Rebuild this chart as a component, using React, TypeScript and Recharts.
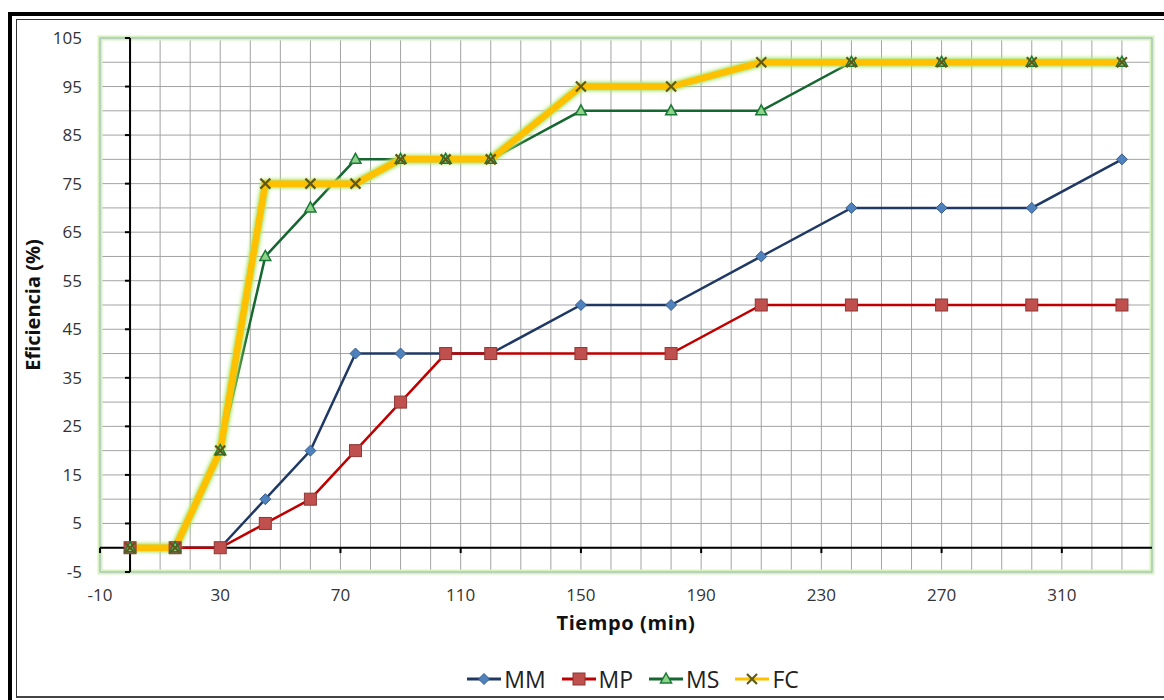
import React from 'react';
import {
  LineChart,
  Line,
  XAxis,
  YAxis,
  CartesianGrid,
  Legend,
  ReferenceLine,
  ReferenceArea,
} from 'recharts';

// tiempo (min) y eficiencia (%) de cada método
const tiempo = [0, 15, 30, 45, 60, 75, 90, 105, 120, 150, 180, 210, 240, 270, 300, 330];
const mm = [0, 0, 0, 10, 20, 40, 40, 40, 40, 50, 50, 60, 70, 70, 70, 80];
const mp = [0, 0, 0, 5, 10, 20, 30, 40, 40, 40, 40, 50, 50, 50, 50, 50];
const ms = [0, 0, 20, 60, 70, 80, 80, 80, 80, 90, 90, 90, 100, 100, 100, 100];
const fc = [0, 0, 20, 75, 75, 75, 80, 80, 80, 95, 95, 100, 100, 100, 100, 100];

const xTicks = [-10, 30, 70, 110, 150, 190, 230, 270, 310];
const yTicks = [-5, 5, 15, 25, 35, 45, 55, 65, 75, 85, 95, 105];
const xGrid = Array.from({ length: 36 }, (_, i) => -10 + i * 10);
const yGrid = Array.from({ length: 23 }, (_, i) => -5 + i * 5);

const data = tiempo.map((t, i) => ({ t, MM: mm[i], MP: mp[i], MS: ms[i], FC: fc[i] }));

const FONT = '"Open Sans", sans-serif';

const Diamond = ({ cx, cy }) => (
  <polygon
    points={`${cx},${cy - 5.5} ${cx + 5.5},${cy} ${cx},${cy + 5.5} ${cx - 5.5},${cy}`}
    fill="#4f81bd"
    stroke="#385d8a"
    strokeWidth={1}
  />
);
const Square = ({ cx, cy }) => (
  <rect x={cx - 6} y={cy - 6} width={12} height={12} fill="#c0504d" stroke="#8c3836" strokeWidth={1} />
);
const Triangle = ({ cx, cy }) => (
  <polygon
    points={`${cx},${cy - 6} ${cx + 5.5},${cy + 4} ${cx - 5.5},${cy + 4}`}
    fill="#8fd38a"
    stroke="#1a7a36"
    strokeWidth={1.5}
  />
);
const Cross = ({ cx, cy }) => (
  <g stroke="#5e5a16" strokeWidth={2.2}>
    <line x1={cx - 5} y1={cy - 5} x2={cx + 5} y2={cy + 5} />
    <line x1={cx - 5} y1={cy + 5} x2={cx + 5} y2={cy - 5} />
  </g>
);

const series = [
  { key: 'MM', color: '#1f3864', width: 2.5, Marker: Diamond },
  { key: 'MP', color: '#c00000', width: 2.5, Marker: Square },
  { key: 'MS', color: '#15662f', width: 2.5, Marker: Triangle },
  { key: 'FC', color: '#ffc000', width: 6.5, Marker: Cross },
];

const renderDot = (Marker) => (props) => {
  const { cx, cy, index } = props;
  return <Marker key={index} cx={cx} cy={cy} />;
};

const LegendContent = () => (
  <div
    style={{
      display: 'flex',
      justifyContent: 'center',
      paddingLeft: 116,
      fontFamily: FONT,
      fontSize: 23,
      color: '#222',
      lineHeight: '30px',
    }}
  >
    {series.map(({ key, color, Marker }) => (
      <div key={key} style={{ display: 'flex', alignItems: 'center', marginRight: 15 }}>
        <svg width={36} height={30}>
          <line x1={1} y1={15} x2={35} y2={15} stroke={color} strokeWidth={3} />
          <Marker cx={18} cy={15} />
        </svg>
        <span style={{ marginLeft: 2 }}>{key}</span>
      </div>
    ))}
  </div>
);

const App = () => {
  return (
    <div style={{ position: 'absolute', left: 0, top: 0, width: 1164, height: 700, background: '#fff', overflow: 'hidden', fontFamily: FONT }}>
      <style>{`.fc-glow { filter: drop-shadow(0 0 2px #9fdc55) drop-shadow(0 0 1.5px #c4ee8a); }`}</style>
      <div style={{ position: 'absolute', left: 8, top: 12, width: 1200, height: 720, borderLeft: '4px solid #000', borderTop: '4px solid #000' }} />
      <div style={{ position: 'absolute', left: 16, top: 19, width: 1200, height: 676, borderLeft: '1px solid #333', borderTop: '1px solid #333', borderBottom: '2px solid #444' }} />
      <div style={{ position: 'absolute', left: 0, top: 0 }}>
        <LineChart width={1164} height={700} data={data} margin={{ top: 38, right: 12, left: 0, bottom: 0 }}>
          <ReferenceArea x1={-10} x2={340} y1={-5} y2={105} fill="none" stroke="#d6f2bd" strokeWidth={5} />
          <CartesianGrid stroke="#a3a3a3" strokeWidth={1} verticalValues={xGrid} horizontalValues={yGrid} />
          <ReferenceArea x1={-10} x2={340} y1={-5} y2={105} fill="none" stroke="#97b0c2" strokeWidth={1} />
          <XAxis
            dataKey="t"
            type="number"
            domain={[-10, 340]}
            ticks={xTicks}
            axisLine={false}
            tickLine={false}
            tickMargin={11}
            height={128}
            tick={{ fill: '#333', fontSize: 17 }}
            label={{ value: 'Tiempo (min)', position: 'insideTop', offset: 44, style: { fontSize: 20, fontWeight: 700, fill: '#111', letterSpacing: 0.6 } }}
          />
          <YAxis
            type="number"
            domain={[-5, 105]}
            ticks={yTicks}
            axisLine={false}
            tickLine={false}
            tickMargin={12}
            width={100}
            tick={{ fill: '#333', fontSize: 17 }}
            label={{ value: 'Eficiencia (%)', angle: -90, position: 'insideLeft', offset: 33, style: { textAnchor: 'middle', fontSize: 20, fontWeight: 700, fill: '#111' } }}
          />
          <ReferenceLine x={0} stroke="#000" strokeWidth={2} />
          <ReferenceLine y={0} stroke="#000" strokeWidth={2} />
          {yTicks.map((v) => (
            <ReferenceLine key={`yt${v}`} segment={[{ x: -1.7, y: v }, { x: 0, y: v }]} stroke="#000" strokeWidth={2} />
          ))}
          {xTicks.map((v) => (
            <ReferenceLine key={`xt${v}`} segment={[{ x: v, y: 0 }, { x: v, y: -1.1 }]} stroke="#000" strokeWidth={2} />
          ))}
          <Legend layout="vertical" align="center" verticalAlign="middle" wrapperStyle={{ top: 664, left: 0, width: 1164 }} content={LegendContent} />
          {series.map(({ key, color, width, Marker }) => (
            <Line
              key={key}
              type="linear"
              dataKey={key}
              stroke={color}
              strokeWidth={width}
              dot={renderDot(Marker)}
              activeDot={false}
              className={key === 'FC' ? 'fc-glow' : undefined}
              isAnimationActive={false}
            />
          ))}
        </LineChart>
      </div>
    </div>
  );
};

export default App;
